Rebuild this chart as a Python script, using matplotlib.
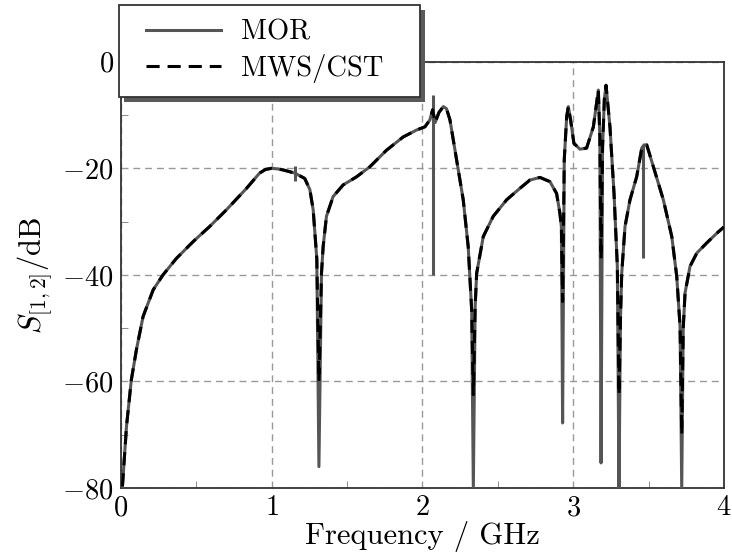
import numpy as np
import matplotlib
matplotlib.use('Agg')
from matplotlib import pyplot as plt
from matplotlib.patches import Rectangle
from matplotlib.lines import Line2D
from matplotlib.legend_handler import HandlerLine2D

plt.rcParams['font.family'] = 'serif'
plt.rcParams['font.serif'] = ['cmr10']
plt.rcParams['mathtext.fontset'] = 'cm'
plt.rcParams['axes.formatter.use_mathtext'] = True

# smooth part of the transmission curve (GHz, dB), shared by both solvers
freq = [0.011, 0.038, 0.07, 0.104, 0.148, 0.215, 0.28, 0.369, 0.48, 0.59, 0.70, 0.834, 0.92,
        0.96, 1.0, 1.04, 1.077, 1.155, 1.22, 1.254, 1.276, 1.30,
        1.331, 1.342, 1.364, 1.408, 1.475, 1.563, 1.652, 1.762, 1.873, 1.962, 2.017, 2.05,
        2.068, 2.085, 2.11, 2.139, 2.16, 2.183, 2.227, 2.271, 2.304, 2.327,
        2.35, 2.36, 2.404, 2.47, 2.559, 2.647, 2.713, 2.78, 2.846, 2.89, 2.912, 2.922,
        2.941, 2.957, 2.968, 2.983, 3.005, 3.045, 3.089, 3.134, 3.167, 3.177,
        3.195, 3.207, 3.218, 3.244, 3.271, 3.293,
        3.314, 3.322, 3.344, 3.377, 3.421, 3.455, 3.47, 3.488, 3.532, 3.598, 3.654, 3.687, 3.709,
        3.73, 3.742, 3.775, 3.82, 3.886, 3.952, 4.0]
s12 = [-79.7, -68.4, -59.7, -54.0, -47.8, -42.8, -40.0, -36.9, -33.75, -30.9, -27.8, -23.75, -20.9,
       -20.2, -20.0, -20.1, -20.3, -20.9, -21.9, -24.0, -27.8, -37.0,
       -39.7, -34.7, -29.0, -25.3, -23.1, -21.6, -19.7, -16.6, -14.1, -12.8, -12.2, -10.9,
       -9.0, -11.4, -9.5, -8.4, -8.8, -10.9, -18.4, -25.9, -34.7, -46.6,
       -46.0, -39.7, -32.8, -29.0, -25.9, -23.75, -22.2, -21.7, -22.5, -24.7, -28.4, -31.0,
       -18.4, -10.3, -8.4, -10.9, -15.3, -16.4, -16.2, -12.2, -5.3, -14.0,
       -16.0, -7.0, -4.4, -12.2, -24.7, -38.4,
       -48.0, -39.7, -30.9, -25.9, -21.6, -16.2, -15.6, -15.6, -19.7, -25.9, -32.8, -40.3, -49.7,
       -50.0, -43.4, -38.4, -35.9, -34.0, -32.2, -31.0]

# resonance notches: MOR resolves them deeper than MWS/CST
dip_freq = [1.314, 2.338, 2.93, 3.185, 3.304, 3.72]
dip_mor = [-76.0, -80.0, -67.8, -75.3, -80.0, -80.0]
dip_mws = [-60.0, -62.5, -45.0, -37.0, -62.5, -70.0]

# narrow spurious spikes only in the MOR result
spike_freq = [1.155, 2.068, 3.466]
spike_top = [-19.5, -6.2, -15.6]
spike_bottom = [-22.3, -40.0, -36.9]


def merge(f, v, df, dv):
    x = np.array(list(f) + list(df))
    y = np.array(list(v) + list(dv))
    order = np.argsort(x, kind='stable')
    return x[order], y[order]


f_mor, y_mor = merge(freq, s12, dip_freq, dip_mor)
f_mws, y_mws = merge(freq, s12, dip_freq, dip_mws)

fig = plt.figure(figsize=(7.32, 5.57), dpi=100)
ax = fig.add_axes([0.165, 0.124, 0.824, 0.765])

mor_color = '#555555'
ax.plot(f_mor, y_mor, color=mor_color, lw=2.2, label='MOR', zorder=3)
ax.vlines(spike_freq, spike_bottom, spike_top, color=mor_color, lw=2.2, zorder=3)
ax.plot(f_mws, y_mws, color='black', lw=2.2, ls=(0, (4.3, 2.6)), label='MWS/CST', zorder=4)

ax.set_xlim(0, 4)
ax.set_ylim(-80, 0)
ax.set_xticks([0, 1, 2, 3, 4])
ax.set_yticks([-80, -60, -40, -20, 0])
ax.set_xticks([0.5, 1.5, 2.5, 3.5], minor=True)
ax.set_yticks([-70, -50, -30, -10], minor=True)
ax.grid(True, which='major', color='#999999', ls=(0, (5, 3.5)), lw=1.0)
ax.tick_params(which='both', direction='in', labelsize=20.5, color='#777777', pad=5)
ax.tick_params(which='major', length=0)
ax.tick_params(which='minor', length=5)
for sp in ax.spines.values():
    sp.set_color('#333333')
    sp.set_linewidth(1.3)

ax.set_xlabel('Frequency / GHz', fontsize=22, labelpad=0)
ax.set_ylabel(r'$S_{[1,2]}/\mathrm{dB}$', fontsize=22, labelpad=5)

# legend box sits above the axes, with a hard drop shadow
handles, labels = ax.get_legend_handles_labels()
legend_box = (119 / 732, 1 - 98 / 557, 301 / 732, 93 / 557)
leg = fig.legend(handles, labels, loc='upper left', bbox_to_anchor=legend_box, mode='expand',
                 bbox_transform=fig.transFigure, borderaxespad=0, fontsize=20.5,
                 fancybox=False, framealpha=1, edgecolor='#333333', borderpad=0.5,
                 labelspacing=0.3, handlelength=3.1, handletextpad=0.7,
                 handler_map={Line2D: HandlerLine2D(xpad=0.46)})
leg.get_frame().set_linewidth(1.3)
leg.set_zorder(10)

fig.canvas.draw()
bb = leg.get_window_extent().transformed(fig.transFigure.inverted())
shadow = Rectangle((bb.x0 + 5 / 732, bb.y0 - 5 / 557), bb.width, bb.height,
                   transform=fig.transFigure, facecolor='#5a5a5a', edgecolor='none', zorder=9)
fig.patches.append(shadow)

plt.savefig('out.png', dpi=100)
